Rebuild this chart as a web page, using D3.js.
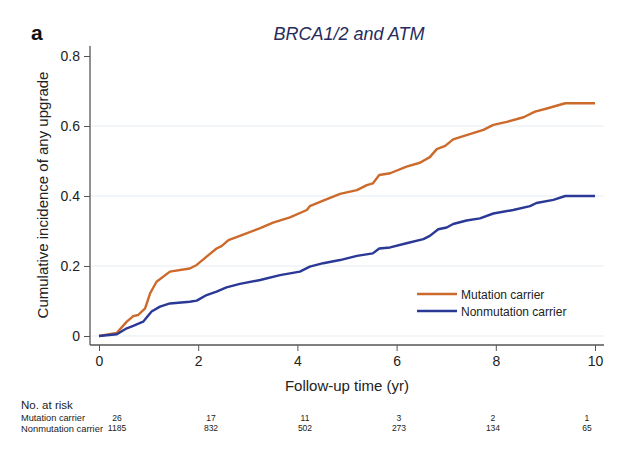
<!DOCTYPE html>
<html>
<head>
<meta charset="utf-8">
<script src="https://cdn.jsdelivr.net/npm/d3@7"></script>
<style>
  body { margin: 0; background: #fff; }
  text { font-family: "Liberation Sans", Arial, sans-serif; }
</style>
</head>
<body>
<svg id="mainsvg" width="637" height="458"></svg>
<script>
// data
const timeMut = [0, 0.36, 0.56, 0.69, 0.79, 0.93, 1.03, 1.16, 1.43, 1.83, 1.97, 2.17, 2.37, 2.47, 2.61, 2.84, 3.25, 3.51, 3.85, 4.19, 4.25, 4.52, 4.86, 5.2, 5.4, 5.52, 5.65, 5.87, 6.2, 6.47, 6.67, 6.81, 6.98, 7.14, 7.41, 7.75, 7.95, 8.22, 8.56, 8.79, 9.03, 9.4, 10];
const incMut = [0, 0.009, 0.041, 0.057, 0.06, 0.079, 0.122, 0.155, 0.184, 0.193, 0.203, 0.227, 0.25, 0.257, 0.274, 0.286, 0.308, 0.324, 0.339, 0.36, 0.371, 0.387, 0.406, 0.417, 0.431, 0.436, 0.46, 0.465, 0.484, 0.495, 0.511, 0.534, 0.543, 0.562, 0.574, 0.589, 0.603, 0.612, 0.625, 0.641, 0.65, 0.665, 0.665];

const timeNon = [0, 0.36, 0.56, 0.69, 0.89, 1.06, 1.23, 1.43, 1.83, 1.97, 2.17, 2.37, 2.57, 2.84, 3.25, 3.65, 4.05, 4.25, 4.52, 4.86, 5.2, 5.52, 5.65, 5.87, 6.2, 6.54, 6.67, 6.84, 7.01, 7.14, 7.41, 7.68, 7.95, 8.35, 8.69, 8.82, 9.16, 9.4, 10];
const incNon = [0, 0.005, 0.022, 0.029, 0.041, 0.07, 0.084, 0.093, 0.098, 0.101, 0.117, 0.127, 0.139, 0.149, 0.16, 0.174, 0.184, 0.198, 0.208, 0.217, 0.229, 0.236, 0.25, 0.253, 0.265, 0.277, 0.286, 0.305, 0.31, 0.32, 0.33, 0.336, 0.35, 0.36, 0.371, 0.38, 0.389, 0.4, 0.4];

const xTicks = [0, 2, 4, 6, 8, 10];
const yTicks = [0, 0.2, 0.4, 0.6, 0.8];
const gridTicks = [0, 0.2, 0.4, 0.6];

const seriesNames = ['Mutation carrier', 'Nonmutation carrier'];
const seriesColors = ['#cc6a2c', '#2a3896'];

const riskTimes = [0, 2, 4, 6, 8, 10];
const riskMut = [26, 17, 11, 3, 2, 1];
const riskNon = [1185, 832, 502, 273, 134, 65];

const svg = d3.select('#mainsvg');

const xScale = d3.scaleLinear().domain([0, 10]).range([99, 595]);
const yScale = d3.scaleLinear().domain([0, 0.8]).range([336, 56]);

// gridlines
svg.append('g').selectAll('line')
  .data(gridTicks)
  .join('line')
  .attr('x1', 90).attr('x2', 604)
  .attr('y1', d => yScale(d)).attr('y2', d => yScale(d))
  .attr('stroke', '#e6edf3')
  .attr('stroke-width', 1.2);

// y axis
const yAxis = svg.append('g')
  .attr('transform', 'translate(90,0)')
  .call(d3.axisLeft(yScale).tickValues(yTicks).tickFormat(d => d === 0 ? '0' : d3.format('.1f')(d)).tickSizeOuter(0).tickSize(6).tickPadding(4));
yAxis.select('.domain').attr('d', 'M0,46V345').attr('stroke', '#555').attr('stroke-width', 1.3);
yAxis.selectAll('.tick line').attr('stroke', '#555');
yAxis.selectAll('.tick text').style('font-size', '14px').attr('fill', '#222')
  .style('font-family', '"Liberation Sans", Arial, sans-serif');

// x axis
const xAxis = svg.append('g')
  .attr('transform', 'translate(0,345)')
  .call(d3.axisBottom(xScale).tickValues(xTicks).tickFormat(d3.format('d')).tickSizeOuter(0).tickSize(6).tickPadding(5));
xAxis.select('.domain').attr('d', 'M90,0H604').attr('stroke', '#555').attr('stroke-width', 1.3);
xAxis.selectAll('.tick line').attr('stroke', '#555');
xAxis.selectAll('.tick text').style('font-size', '14px').attr('fill', '#222')
  .style('font-family', '"Liberation Sans", Arial, sans-serif');

// curves
const line = d3.line()
  .x(d => xScale(d[0]))
  .y(d => yScale(d[1]));

const curves = [
  timeMut.map((t, i) => [t, incMut[i]]),
  timeNon.map((t, i) => [t, incNon[i]])
];

svg.append('g').selectAll('path')
  .data(curves)
  .join('path')
  .attr('d', d => line(d))
  .attr('fill', 'none')
  .attr('stroke', (d, i) => seriesColors[i])
  .attr('stroke-width', 2.4)
  .attr('stroke-linejoin', 'round');

// axis titles
svg.append('text')
  .attr('x', 347).attr('y', 391)
  .attr('text-anchor', 'middle')
  .style('font-size', '15px').attr('fill', '#222')
  .text('Follow-up time (yr)');

svg.append('text')
  .attr('transform', 'translate(48,195) rotate(-90)')
  .attr('text-anchor', 'middle')
  .style('font-size', '15px').attr('fill', '#222')
  .text('Cumulative incidence of any upgrade');

// title + panel letter
svg.append('text')
  .attr('x', 349).attr('y', 40)
  .attr('text-anchor', 'middle')
  .style('font-size', '18px').style('font-style', 'italic')
  .attr('fill', '#272c5c')
  .text('BRCA1/2 and ATM');

svg.append('text')
  .attr('x', 31).attr('y', 40)
  .style('font-size', '21px').style('font-weight', 'bold')
  .attr('fill', '#111')
  .text('a');

// legend
const legend = svg.append('g').selectAll('g')
  .data(seriesNames)
  .join('g')
  .attr('transform', (d, i) => `translate(417,${294 + i * 17})`);
legend.append('line')
  .attr('x1', 0).attr('x2', 40)
  .attr('stroke', (d, i) => seriesColors[i])
  .attr('stroke-width', 2.4);
legend.append('text')
  .attr('x', 44).attr('y', 4.5)
  .style('font-size', '12px').attr('fill', '#222')
  .text(d => d);

// number at risk table
const xRisk = d3.scaleLinear().domain([0, 10]).range([117, 587]);

svg.append('text')
  .attr('x', 21).attr('y', 409)
  .style('font-size', '11.5px').attr('fill', '#222')
  .text('No. at risk');

const rows = [riskMut, riskNon];
rows.forEach((vals, r) => {
  const y = 421 + r * 10.5;
  svg.append('text')
    .attr('x', 21).attr('y', y)
    .style('font-size', '9.5px').attr('fill', '#222')
    .attr('textLength', r === 0 ? 64 : 82)
    .attr('lengthAdjust', 'spacingAndGlyphs')
    .text(seriesNames[r]);
  svg.append('g').selectAll('text')
    .data(vals)
    .join('text')
    .attr('x', (d, i) => xRisk(riskTimes[i]))
    .attr('y', y)
    .attr('text-anchor', 'middle')
    .style('font-size', '9.5px').attr('fill', '#222')
    .attr('transform', (d, i) => `translate(${xRisk(riskTimes[i])},0) scale(0.9,1) translate(${-xRisk(riskTimes[i])},0)`)
    .text(d => d);
});
</script>
</body>
</html>
